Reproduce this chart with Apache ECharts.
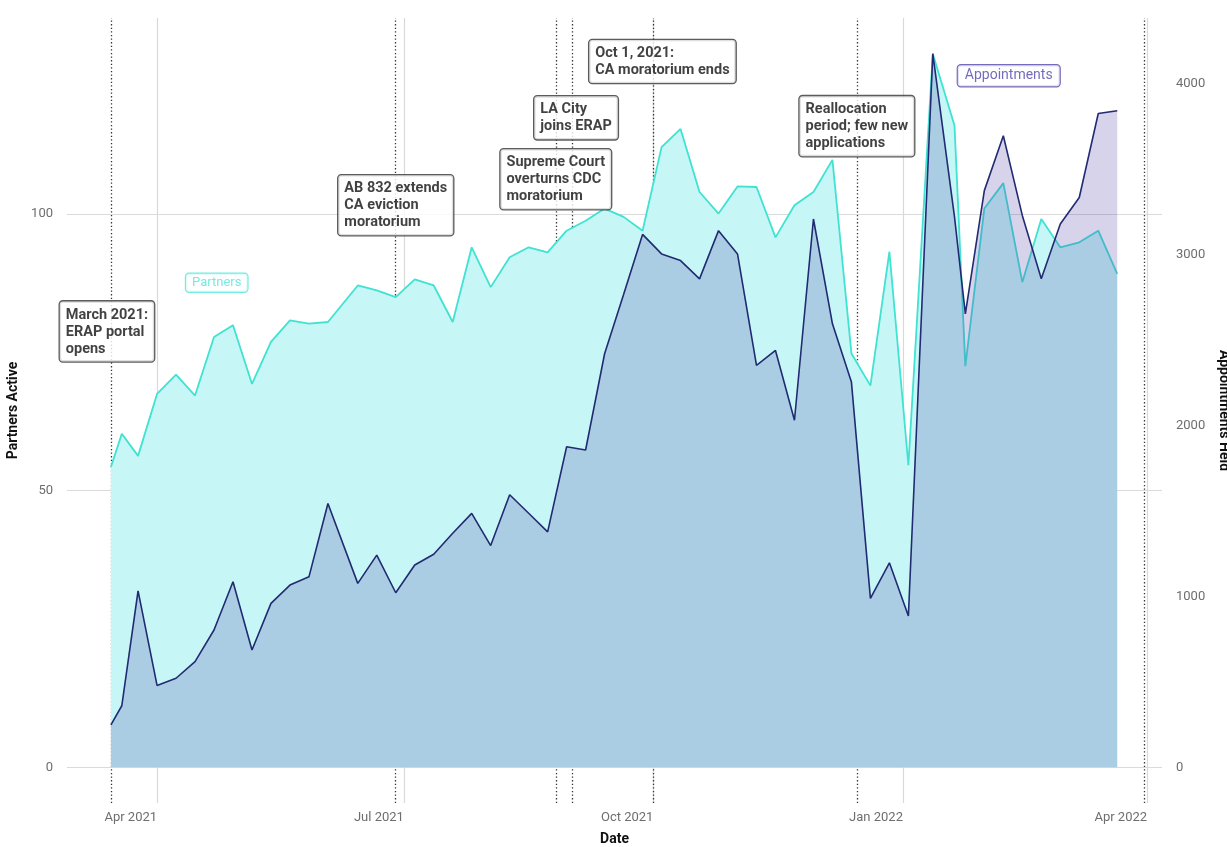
<!DOCTYPE html>
<html><head><meta charset="utf-8">
<script src="https://cdn.jsdelivr.net/npm/echarts@6/dist/echarts.min.js"></script>
<style>html,body{margin:0;padding:0;background:#fff}#c{width:1227px;height:847px}</style>
</head><body><div id="c"></div>
<script>
// ---- data ----
const dates = ['2021-03-15','2021-03-19','2021-03-25','2021-04-01','2021-04-08','2021-04-15','2021-04-22','2021-04-29',
  '2021-05-06','2021-05-13','2021-05-20','2021-05-27','2021-06-03','2021-06-14','2021-06-21','2021-06-28',
  '2021-07-05','2021-07-12','2021-07-19','2021-07-26','2021-08-02','2021-08-09','2021-08-16','2021-08-23','2021-08-30',
  '2021-09-06','2021-09-13','2021-09-20','2021-09-27','2021-10-04','2021-10-11','2021-10-18','2021-10-25',
  '2021-11-01','2021-11-08','2021-11-15','2021-11-22','2021-11-29','2021-12-06','2021-12-13','2021-12-20','2021-12-27',
  '2022-01-03','2022-01-12','2022-01-20','2022-01-24','2022-01-31','2022-02-07','2022-02-14','2022-02-21','2022-02-28',
  '2022-03-07','2022-03-14','2022-03-21'];
const partners = [54.3,60.3,56.3,67.5,71.0,67.2,77.8,79.9,
  69.3,76.9,80.8,80.2,80.5,87.1,86.2,85.0,
  88.2,87.1,80.5,94.0,86.8,92.2,94.0,93.1,97.0,
  98.8,101.0,99.5,97.0,112.1,115.4,104.0,100.1,
  105.0,104.9,95.8,101.6,104.0,109.8,74.8,69.0,93.2,
  54.6,129.0,116.0,72.5,101.0,105.6,87.7,99.1,94.0,
  94.9,97.0,89.2];
const appointments = [248,360,1032,479,521,618,803,1085,
  686,959,1066,1114,1543,1076,1241,1021,
  1183,1246,1369,1485,1297,1594,1486,1377,1875,
  1856,2419,2765,3117,3003,2964,2857,3139,
  3003,2351,2438,2030,3207,2594,2253,988,1196,
  885,4174,3220,2652,3373,3694,3228,2857,3178,
  3333,3824,3840];
const xTickDates = ['2021-04-01','2021-07-01','2021-10-01','2022-01-01','2022-04-01'];
const partnerTicks = [0,50,100];
const appointmentTicks = [0,1000,2000,3000,4000];
const eventDates = ['2021-03-15','2021-06-28','2021-08-26','2021-09-01','2021-10-01','2021-12-15','2022-03-31'];
const eventNotes = ['March 2021:\nERAP portal\nopens','AB 832 extends\nCA eviction\nmoratorium',
  'Supreme Court\noverturns CDC\nmoratorium','LA City\njoins ERAP','Oct 1, 2021:\nCA moratorium ends',
  'Reallocation\nperiod; few new\napplications', ''];
const seriesNames = ['Partners','Appointments'];

// ---- helpers ----
function ts(s){const p=s.split('-').map(Number);return new Date(p[0],p[1]-1,p[2]).getTime();}
const DAY = 864e5;
const MONTHS = ['Jan','Feb','Mar','Apr','May','Jun','Jul','Aug','Sep','Oct','Nov','Dec'];
const pMax = Math.max(...partners), aMax = Math.max(...appointments);
const ratio = aMax / pMax;           // secondary axis scale factor
const padP = pMax * 0.05;
const yMin = -padP, yMax = pMax + padP;

// layout: vertical centre (in partner units) and pixel nudge of each note box
const noteLayout = [
  {y: 78.8, dx: -4}, {y: 101.6, dx: 0}, {y: 106.3, dx: 0}, {y: 117.4, dx: 4},
  {y: 127.6, dx: 9}, {y: 115.9, dx: 0}
];

const font = 'Roboto, "Noto Sans", sans-serif';
const noteData = [];
eventNotes.forEach((t,i)=>{
  if(!t) return;
  noteData.push({
    value:[ts(eventDates[i]), noteLayout[i].y],
    label:{formatter: t.split('\n').map(l=>'{t|'+l+'}').join('\n'), offset:[noteLayout[i].dx,0]}
  });
});

const chart = echarts.init(document.getElementById('c'), null, {renderer:'canvas'});
chart.setOption({
  animation:false,
  backgroundColor:'#ffffff',
  textStyle:{fontFamily:font},
  grid:{left:67, right:65, top:18, bottom:44, outerBoundsMode:'none', containLabel:false},
  xAxis:{
    type:'value',
    min: ts('2021-04-01') - 33.2*DAY,
    max: ts('2022-04-01') + 5.5*DAY,
    name:'Date', nameLocation:'middle', nameGap:29,
    nameTextStyle:{fontWeight:'bold', fontSize:14, color:'#111', fontFamily:font},
    axisLine:{show:false, onZero:false},
    axisTick:{show:false, customValues: xTickDates.map(ts)},
    axisLabel:{customValues: xTickDates.map(ts), align:'right', margin:8, color:'#6e6e6e', fontSize:13,
      formatter:(v)=>{const d=new Date(v);return MONTHS[d.getMonth()]+' '+d.getFullYear();}},
    splitLine:{show:true, lineStyle:{color:'#d9d9d9', width:1.2}}
  },
  yAxis:[{
    type:'value', min:yMin, max:yMax, position:'left',
    name:'Partners Active', nameLocation:'middle', nameGap:36,
    nameTextStyle:{fontWeight:'bold', fontSize:14, color:'#111', fontFamily:font},
    axisLine:{show:false}, axisTick:{show:false, customValues:partnerTicks},
    axisLabel:{customValues:partnerTicks, margin:14, color:'#6e6e6e', fontSize:13, formatter:(v)=>String(v)},
    splitLine:{show:true, lineStyle:{color:'#dadada', width:1.2}}
  },{
    type:'value', min:yMin*ratio, max:yMax*ratio, position:'right',
    name:'Appointments Held', nameLocation:'middle', nameGap:54, nameRotate:-90,
    nameTextStyle:{fontWeight:'bold', fontSize:14, color:'#111', fontFamily:font},
    axisLine:{show:false}, axisTick:{show:false, customValues:appointmentTicks},
    axisLabel:{customValues:appointmentTicks, margin:14, color:'#6e6e6e', fontSize:13, formatter:(v)=>String(v)},
    splitLine:{show:false}
  }],
  series:[
    { // event reference lines (drawn under the areas)
      type:'line', name:'events', data:[], z:1, silent:true,
      markLine:{z:1, symbol:'none', silent:true, label:{show:false},
        lineStyle:{type:[1.3,2.3], color:'#333', width:1.3},
        data: eventDates.map(d=>({xAxis: ts(d)}))}
    },
    {
      type:'line', name:seriesNames[0], yAxisIndex:0, z:2,
      data: dates.map((d,i)=>[ts(d), partners[i]]),
      showSymbol:false, symbol:'none',
      lineStyle:{color:'#40e2d2', width:1.8},
      itemStyle:{color:'#40e2d2'},
      areaStyle:{color:'#c6f7f6', opacity:1}
    },
    {
      type:'line', name:seriesNames[1], yAxisIndex:1, z:3,
      data: dates.map((d,i)=>[ts(d), appointments[i]]),
      showSymbol:false, symbol:'none',
      lineStyle:{color:'#222a72', width:1.6},
      itemStyle:{color:'#222a72'},
      areaStyle:{color:'rgba(78,60,165,0.32)'}
    },
    { // event notes
      type:'scatter', yAxisIndex:0, z:20, silent:true, symbolSize:0,
      data: noteData,
      label:{show:true, position:'inside', align:'center', verticalAlign:'middle',
        backgroundColor:'#ffffff', borderColor:'#333333', borderWidth:1.3, borderRadius:3,
        padding:[5,6,4,6],
        rich:{t:{align:'left', fontWeight:'bold', fontSize:14.5, lineHeight:17, color:'#111111', fontFamily:font}}}
    },
    { // series labels
      type:'scatter', yAxisIndex:0, z:20, silent:true, symbolSize:0,
      data:[
        {value:[ts('2021-04-23'), 87.6], label:{formatter:seriesNames[0], color:'#4fe6d8', borderColor:'#4fe6d8', fontSize:13, padding:[3,6,2,6]}},
        {value:[ts('2022-02-09'), 125.0], label:{formatter:seriesNames[1], color:'#5146ad', borderColor:'#5146ad', fontSize:14, padding:[4,7,3,7]}}
      ],
      label:{show:true, position:'inside', align:'center', verticalAlign:'middle',
        backgroundColor:'#ffffff', borderWidth:1.2, borderRadius:3, fontFamily:font}
    }
  ]
});
</script>
</body></html>
